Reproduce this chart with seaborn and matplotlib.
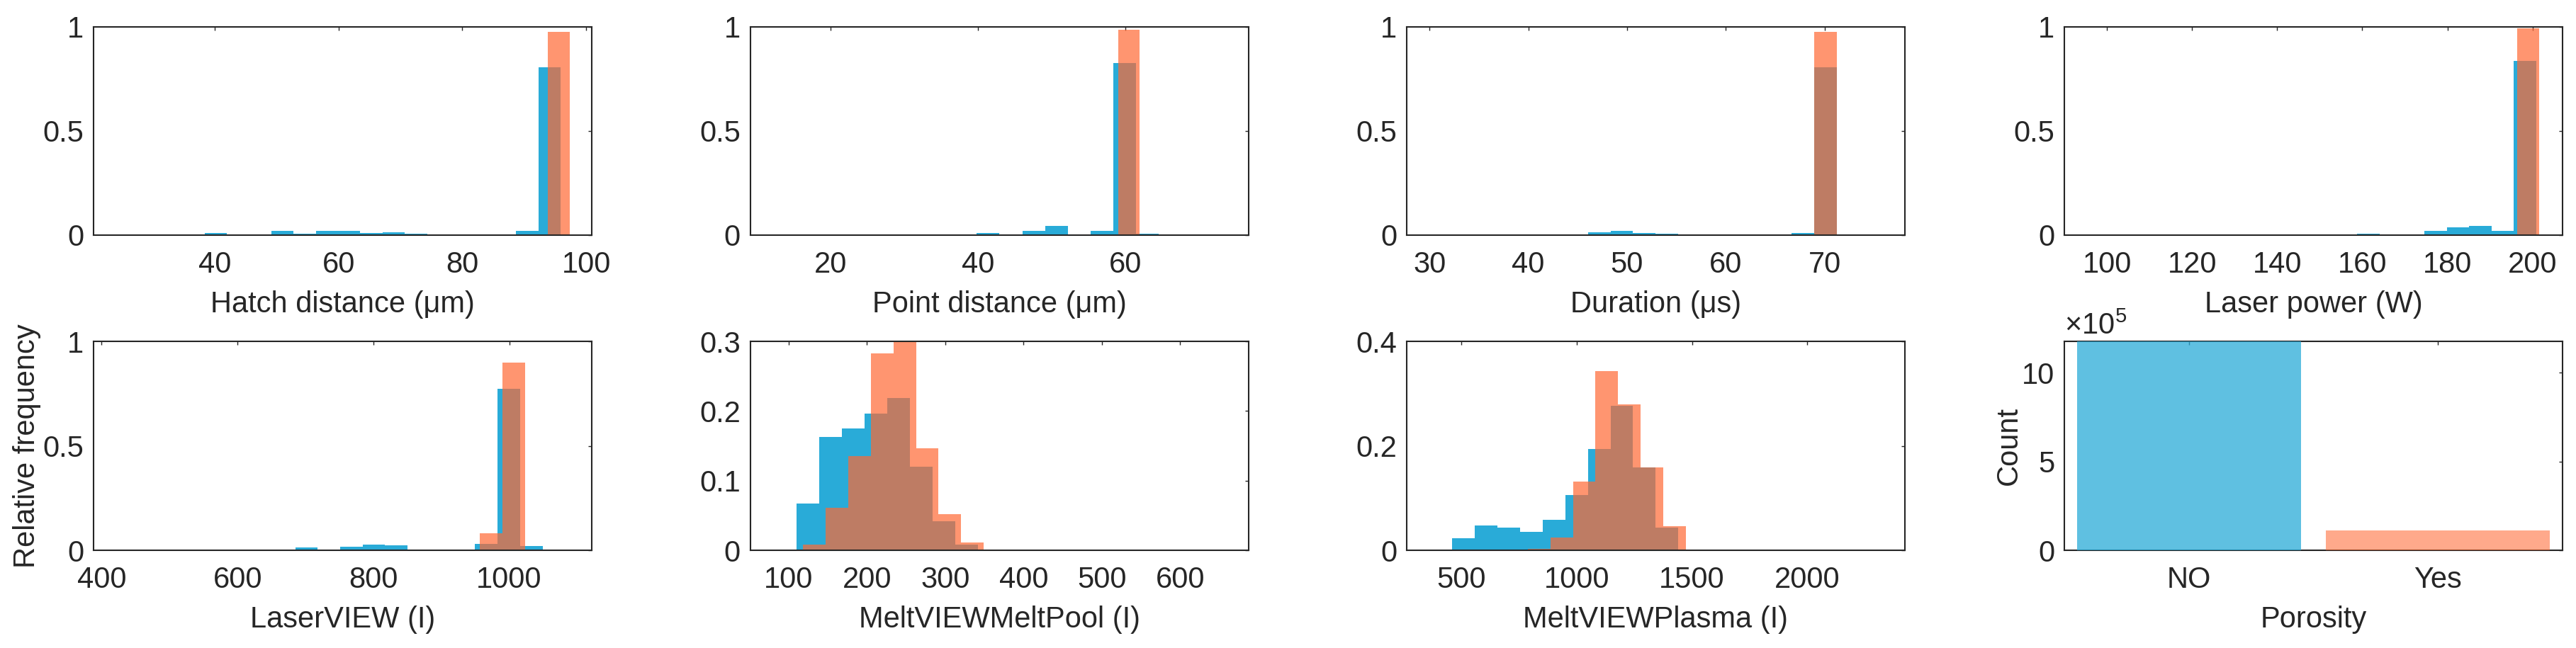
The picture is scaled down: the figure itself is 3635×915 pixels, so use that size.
import numpy as np
import pandas as pd
import seaborn as sns
import matplotlib.pyplot as plt
from matplotlib.ticker import FuncFormatter

# histogram bins: first edge, bin width, relative frequency per bin
# "no" = parts without porosity (blue), "yes" = porous parts (orange)
hatch_no_start, hatch_no_w = 38.4, 3.59
hatch_no = [0.010, 0.003, 0, 0.021, 0.006, 0.021, 0.021, 0.010, 0.012, 0.005,
            0, 0, 0, 0, 0.021, 0.807]
hatch_yes_start, hatch_yes_w = 93.75, 3.55
hatch_yes = [0.977]

point_no_start, point_no_w = 18.2, 3.09
point_no = [0.003, 0, 0, 0, 0, 0, 0, 0.010, 0, 0.019, 0.044, 0, 0.019, 0.825, 0.005]
point_yes_start, point_yes_w = 59.0, 2.9
point_yes = [0.986]

dur_no_start, dur_no_w = 30.0, 2.29
dur_no = [0.004, 0, 0.002, 0, 0.004, 0.004, 0.003, 0.015, 0.020, 0.010, 0.008, 0.004,
          0, 0, 0, 0, 0.010, 0.807]
dur_yes_start, dur_yes_w = 68.93, 2.29
dur_yes = [0.977]

power_no_start, power_no_w = 158.8, 5.26
power_no = [0.006, 0, 0, 0.021, 0.036, 0.044, 0.021, 0.836]
power_yes_start, power_yes_w = 196.4, 5.2
power_yes = [0.994]

laser_no_start, laser_no_w = 552.5, 33.1
laser_no = [0.002, 0, 0.002, 0, 0.0136, 0.004, 0.017, 0.028, 0.023, 0.004, 0.004, 0,
            0.030, 0.774, 0.021]
laser_yes_start, laser_yes_w = 957.0, 33.0
laser_yes = [0.081, 0.900]

pool_no_start, pool_no_w = 110.0, 29.0
pool_no = [0.0675, 0.163, 0.1746, 0.196, 0.219, 0.120, 0.042, 0.0085]
pool_yes_start, pool_yes_w = 118.0, 28.9
pool_yes = [0.008, 0.061, 0.135, 0.283, 0.305, 0.146, 0.0515, 0.0115]

plasma_no_start, plasma_no_w = 461.0, 98.0
plasma_no = [0.0226, 0.048, 0.044, 0.035, 0.059, 0.106, 0.194, 0.277, 0.159, 0.044, 0.002]
plasma_yes_start, plasma_yes_w = 690.0, 98.0
plasma_yes = [0.002, 0.003, 0.024, 0.131, 0.343, 0.279, 0.158, 0.046, 0.002]

porosity_labels = ["NO", "Yes"]
porosity_counts = [1.177e6, 1.13e5]

BLUE = "#29abd8"
ORANGE = "#ff6933"
FS = 30

sns.set_style("white")
plt.rcParams["font.family"] = ["Liberation Sans", "DejaVu Sans"]
plt.rcParams.update({
    "mathtext.fontset": "custom",
    "mathtext.rm": "Liberation Sans",
    "mathtext.it": "Liberation Sans:italic",
    "axes.edgecolor": "#262626",
    "axes.linewidth": 1.5,
    "text.color": "#262626",
    "axes.labelcolor": "#262626",
    "xtick.color": "#262626",
    "ytick.color": "#262626",
})


def style_axes(ax):
    ax.tick_params(direction="in", length=3.6, width=1.0, top=True, right=True,
                   labelsize=FS)
    ax.tick_params(axis="x", pad=16)
    ax.tick_params(axis="y", pad=10)
    ax.yaxis.set_major_formatter(FuncFormatter(lambda v, _: f"{v:g}"))


def hist_panel(ax, no_start, no_w, no_h, yes_start, yes_w, yes_h,
               xlabel, xlim, xticks, ylim, yticks):
    for start, w, h, col, a in [(no_start, no_w, no_h, BLUE, 1.0),
                                (yes_start, yes_w, yes_h, ORANGE, 0.7)]:
        edges = start + w * np.arange(len(h) + 1)
        d = pd.DataFrame({"value": edges[:-1] + w / 2, "freq": h})
        sns.histplot(data=d, x="value", weights="freq", bins=list(edges), stat="count",
                     color=col, alpha=a, linewidth=0, ax=ax)
    ax.set_xlim(*xlim)
    ax.set_ylim(*ylim)
    ax.set_xticks(xticks)
    ax.set_yticks(yticks)
    ax.set_xlabel(xlabel, fontsize=FS, labelpad=11.5)
    ax.set_ylabel("")
    style_axes(ax)


fig = plt.figure(figsize=(36.35, 9.15), dpi=100)
lefts = [0.0363, 0.2913, 0.5461, 0.8014]
width = 0.1933
top_row = (0.6372, 0.3213)
bot_row = (0.1508, 0.3224)

axes_top = [fig.add_axes([l, top_row[0], width, top_row[1]]) for l in lefts]
axes_bot = [fig.add_axes([l, bot_row[0], width, bot_row[1]]) for l in lefts]

hist_panel(axes_top[0], hatch_no_start, hatch_no_w, hatch_no,
           hatch_yes_start, hatch_yes_w, hatch_yes,
           "Hatch distance (μm)", (20.46, 100.83), [40, 60, 80, 100], (0, 1), [0, 0.5, 1])
hist_panel(axes_top[1], point_no_start, point_no_w, point_no,
           point_yes_start, point_yes_w, point_yes,
           "Point distance (μm)", (9.1, 76.7), [20, 40, 60], (0, 1), [0, 0.5, 1])
hist_panel(axes_top[2], dur_no_start, dur_no_w, dur_no,
           dur_yes_start, dur_yes_w, dur_yes,
           "Duration (μs)", (27.7, 78.1), [30, 40, 50, 60, 70], (0, 1), [0, 0.5, 1])
hist_panel(axes_top[3], power_no_start, power_no_w, power_no,
           power_yes_start, power_yes_w, power_yes,
           "Laser power (W)", (90, 207), [100, 120, 140, 160, 180, 200], (0, 1), [0, 0.5, 1])

hist_panel(axes_bot[0], laser_no_start, laser_no_w, laser_no,
           laser_yes_start, laser_yes_w, laser_yes,
           "LaserVIEW (I)", (388, 1121), [400, 600, 800, 1000], (0, 1), [0, 0.5, 1])
hist_panel(axes_bot[1], pool_no_start, pool_no_w, pool_no,
           pool_yes_start, pool_yes_w, pool_yes,
           "MeltVIEWMeltPool (I)", (51, 687), [100, 200, 300, 400, 500, 600],
           (0, 0.3), [0, 0.1, 0.2, 0.3])
hist_panel(axes_bot[2], plasma_no_start, plasma_no_w, plasma_no,
           plasma_yes_start, plasma_yes_w, plasma_yes,
           "MeltVIEWPlasma (I)", (264, 2422), [500, 1000, 1500, 2000],
           (0, 0.4), [0, 0.2, 0.4])

axes_bot[0].set_ylabel("Relative frequency", fontsize=FS)
axes_bot[0].yaxis.set_label_coords(-0.105, 0.5)

# porosity class counts
ax = axes_bot[3]
df = pd.DataFrame({"Porosity": porosity_labels, "Count": porosity_counts})
sns.barplot(data=df, x="Porosity", y="Count", hue="Porosity", palette=[BLUE, ORANGE],
            saturation=1, width=0.9, legend=False, ax=ax)
for patch, a in zip(ax.patches, [0.75, 0.57]):
    patch.set_alpha(a)
    patch.set_linewidth(0)
for sp in ax.spines.values():
    sp.set_zorder(0.5)
ax.set_xlim(-0.5, 1.5)
ax.set_ylim(0, max(porosity_counts))
ax.set_yticks([0, 5e5, 10e5])
ax.set_yticklabels(["0", "5", "10"])
ax.set_xlabel("Porosity", fontsize=FS, labelpad=11.5)
ax.set_ylabel("Count", fontsize=FS)
ax.yaxis.set_label_coords(-0.0826, 0.5)
ax.tick_params(direction="in", length=3.6, width=1.0, top=True, right=True, labelsize=FS)
ax.tick_params(axis="x", pad=16)
ax.tick_params(axis="y", pad=10)
ax.text(0, 1.034, r"$\times10^{5}$", transform=ax.transAxes, fontsize=FS,
        ha="left", va="baseline")

fig.savefig("out.png", dpi=100)
